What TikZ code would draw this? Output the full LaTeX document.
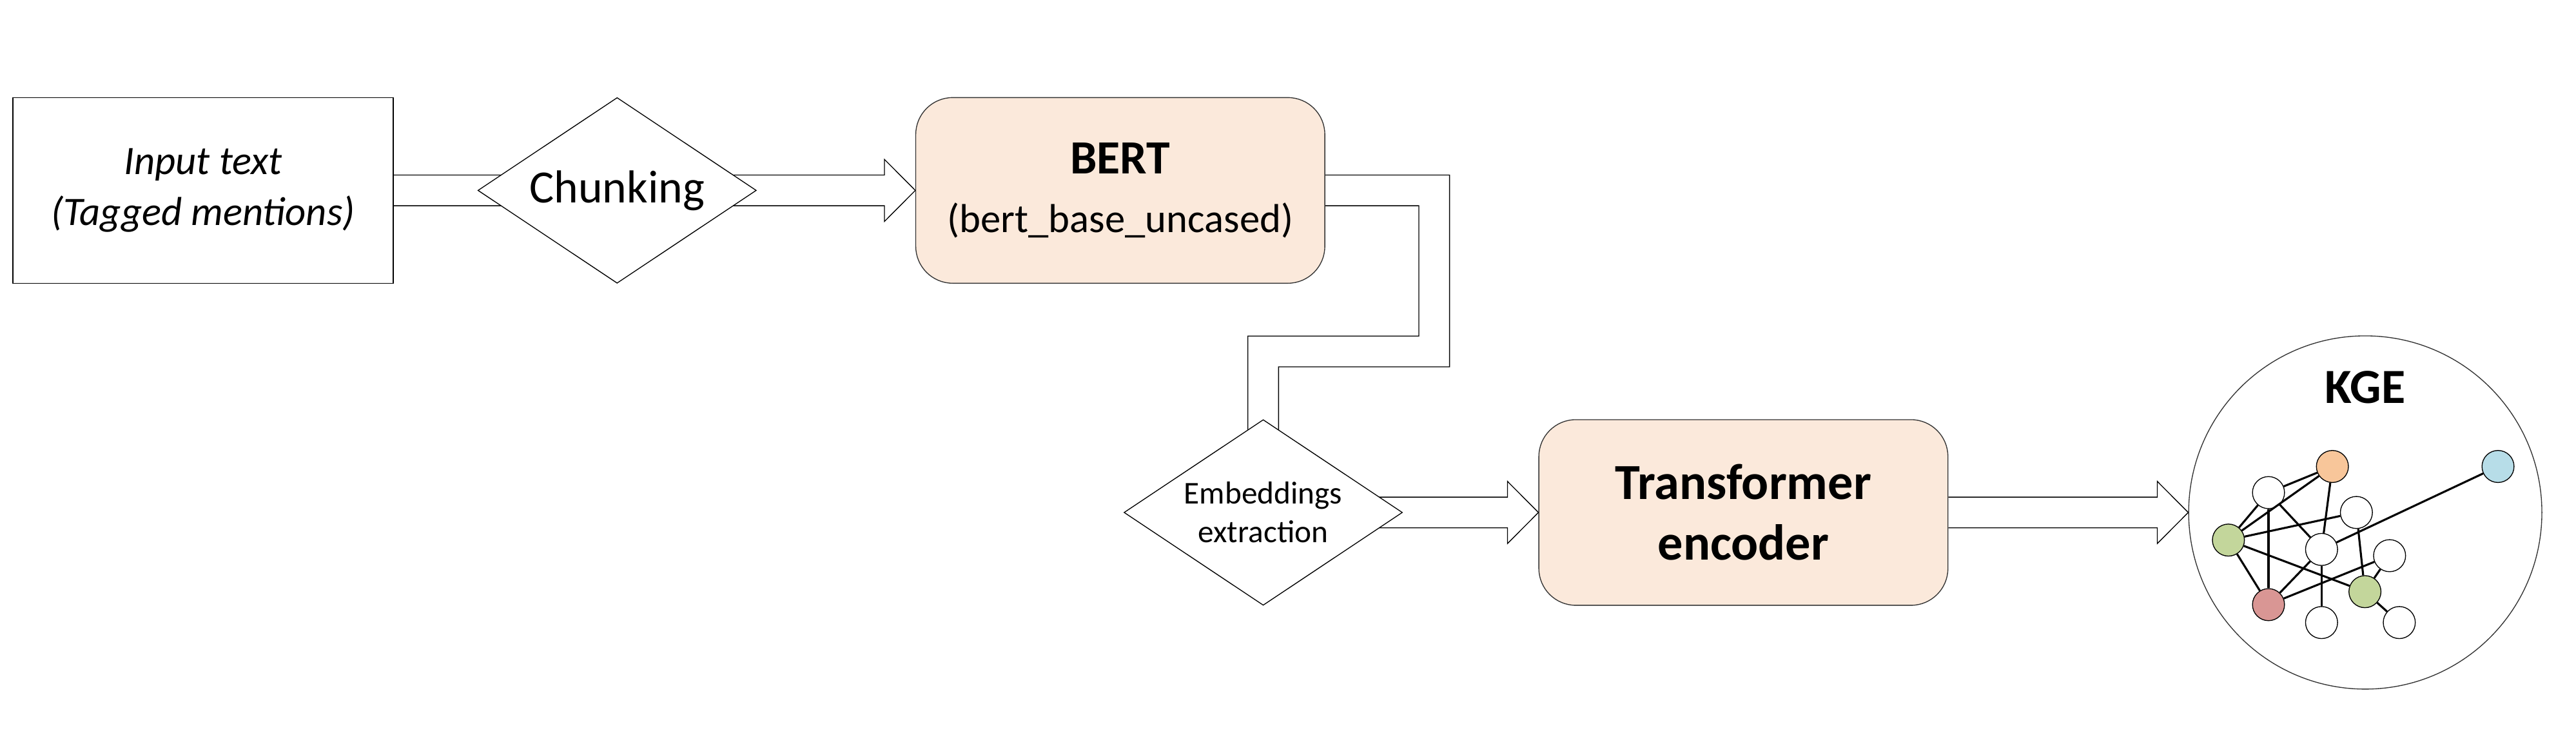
\documentclass[tikz,border=0pt]{standalone}
\usepackage{fontspec}
\setmainfont{Carlito}
\usepackage{tikz}
\usetikzlibrary{shapes.geometric, positioning, calc, backgrounds}
\definecolor{peach}{RGB}{251,233,219}
\definecolor{kgorange}{RGB}{248,198,154}
\definecolor{kgblue}{RGB}{183,221,232}
\definecolor{kggreen}{RGB}{195,214,155}
\definecolor{kgred}{RGB}{217,150,148}
\newcommand{\shw}{0.187cm} % half width of arrow shaft
\newcommand{\hdw}{0.378cm} % half width of arrow head
\newcommand{\hdl}{0.376cm} % length of arrow head
\tikzset{
  textbox/.style={rectangle, draw=black, line width=0.3pt, fill=white, minimum width=4.63cm, minimum height=2.26cm, align=center, font=\fontsize{14}{17.5}\selectfont\itshape},
  choice/.style={diamond, aspect=1.5, draw=black, line width=0.3pt, fill=white, minimum width=3.39cm, minimum height=2.26cm, inner sep=0pt, align=center},
  model/.style={rectangle, rounded corners=0.45cm, draw=black!80, line width=0.3pt, fill=peach, minimum width=4.98cm, minimum height=2.26cm, align=center},
  graphnode/.style={circle, draw=black, line width=0.3pt, fill=white, minimum size=0.39cm, inner sep=0pt},
  graphedge/.style={line width=0.7pt},
  blockarrow/.style={draw=black, line width=0.3pt, fill=white}
}

\begin{document}
\begin{tikzpicture}
\useasboundingbox (0,0) rectangle (31.36,9.16);

% Blocks
\node (input) [textbox] at (2.472,6.842) {Input text\\(Tagged mentions)};
\node (chunk) [choice, right=1.02cm of input, font=\fontsize{16}{19}\selectfont] {Chunking};
\node (bert) [model, right=1.93cm of chunk, font=\fontsize{14}{20.5}\selectfont] {{\fontsize{16.5}{20.5}\selectfont\bfseries BERT}\\(bert\_base\_uncased)};
\node (embed) [choice, below=1.65cm of bert, xshift=1.74cm, font=\fontsize{11}{13.4}\selectfont] {Embeddings\\extraction};
\node (trans) [model, right=1.65cm of embed, font=\fontsize{17.5}{21}\selectfont\bfseries] {Transformer\\encoder};
\node (kge) [circle, draw=black!80, line width=0.3pt, minimum size=4.3cm, right=2.92cm of trans] {};
\node (kgetitle) [anchor=base, font=\fontsize{17}{20}\selectfont\bfseries] at ([yshift=1.33cm]kge.center) {KGE};

% Knowledge graph
\begin{scope}[shift={(kge.center)}]
\node (ko) [graphnode, fill=kgorange] at (-0.40,0.56) {};
\node (kb) [graphnode, fill=kgblue] at (1.616,0.56) {};
\node (wa) [graphnode] at (-1.178,0.242) {};
\node (wb) [graphnode] at (-0.108,0) {};
\node (ga) [graphnode, fill=kggreen] at (-1.666,-0.336) {};
\node (wc) [graphnode] at (-0.532,-0.45) {};
\node (wd) [graphnode] at (0.296,-0.526) {};
\node (gb) [graphnode, fill=kggreen] at (-0.004,-0.964) {};
\node (kr) [graphnode, fill=kgred] at (-1.178,-1.122) {};
\node (we) [graphnode] at (-0.532,-1.34) {};
\node (wf) [graphnode] at (0.414,-1.34) {};
\end{scope}
\foreach \a/\b in {ko/wa, ko/ga, ko/wc, wa/ga, wa/kr, wa/wc, ga/wb, ga/kr, ga/gb, wc/kb, wc/kr, wc/we, wd/kr, wb/gb, wd/gb, gb/wf}
  \draw [graphedge] (\a) -- (\b);

% Turning points of the elbow arrow
\coordinate (turn) at ([xshift=1.326cm]bert.east);
\coordinate (mid) at ($(bert.south)!0.5!(embed.north)$);

% Block arrows
\begin{scope}[on background layer]
\fill [white] (0,0) rectangle (31.36,9.16);
\draw [blockarrow] ([yshift=\shw]input.east) -- ([xshift=-\hdl,yshift=\shw]bert.west) -- ([xshift=-\hdl,yshift=\hdw]bert.west) -- (bert.west) -- ([xshift=-\hdl,yshift=-\hdw]bert.west) -- ([xshift=-\hdl,yshift=-\shw]bert.west) -- ([yshift=-\shw]input.east);
\draw [blockarrow] ([yshift=\shw]bert.east) -- ($(turn)+(\shw,\shw)$) -- ($(turn |- mid)+(\shw,-\shw)$) -- ($(embed.north |- mid)+(\shw,-\shw)$) -- ($(embed.north)+(\shw,-0.35)$) -- ($(embed.north)+(\hdw,-0.35)$) -- ($(embed.north)+(0,-0.73)$) -- ($(embed.north)+(-\hdw,-0.35)$) -- ($(embed.north)+(-\shw,-0.35)$) -- ($(embed.north |- mid)+(-\shw,\shw)$) -- ($(turn |- mid)+(-\shw,\shw)$) -- ($(turn)+(-\shw,-\shw)$) -- ([yshift=-\shw]bert.east);
\draw [blockarrow] ([yshift=\shw]embed.center) -- ([xshift=-\hdl,yshift=\shw]trans.west) -- ([xshift=-\hdl,yshift=\hdw]trans.west) -- (trans.west) -- ([xshift=-\hdl,yshift=-\hdw]trans.west) -- ([xshift=-\hdl,yshift=-\shw]trans.west) -- ([yshift=-\shw]embed.center);
\draw [blockarrow] ([yshift=\shw]trans.east) -- ([xshift=-\hdl,yshift=\shw]kge.west) -- ([xshift=-\hdl,yshift=\hdw]kge.west) -- (kge.west) -- ([xshift=-\hdl,yshift=-\hdw]kge.west) -- ([xshift=-\hdl,yshift=-\shw]kge.west) -- ([yshift=-\shw]trans.east);
\end{scope}

\end{tikzpicture}
\end{document}
